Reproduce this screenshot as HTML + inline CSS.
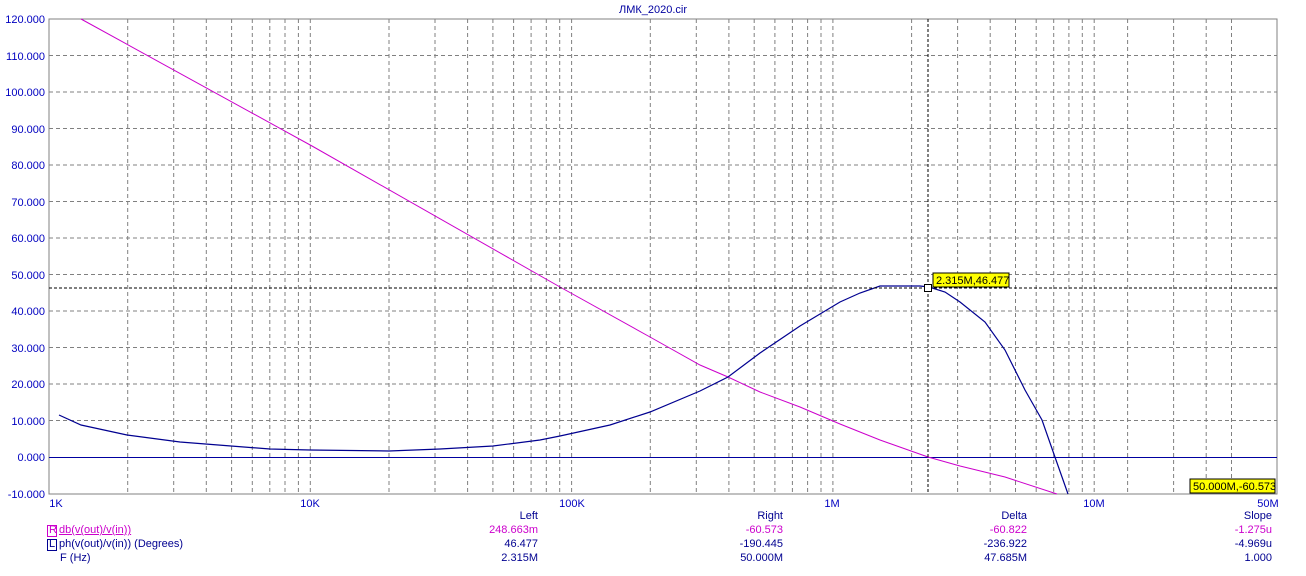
<!DOCTYPE html><html><head><style>
body{margin:0;background:#fff;width:1306px;height:576px;overflow:hidden;font-family:"Liberation Sans",sans-serif;}
.t{position:absolute;font-size:11px;white-space:nowrap}
.r{text-align:right}
</style></head><body>
<svg width="1306" height="576" style="position:absolute;left:0;top:0" font-family="Liberation Sans" font-size="11">
<text x="653" y="13" text-anchor="middle" fill="#0000a0">ЛМК_2020.cir</text>
<g stroke="#808080" stroke-dasharray="4,3" stroke-width="1">
<g id="dec">
<line x1="127.7" y1="19" x2="127.7" y2="494"/><line x1="173.7" y1="19" x2="173.7" y2="494"/><line x1="206.3" y1="19" x2="206.3" y2="494"/><line x1="231.6" y1="19" x2="231.6" y2="494"/><line x1="252.3" y1="19" x2="252.3" y2="494"/><line x1="269.8" y1="19" x2="269.8" y2="494"/><line x1="285" y1="19" x2="285" y2="494"/><line x1="298.4" y1="19" x2="298.4" y2="494"/><line x1="310.3" y1="19" x2="310.3" y2="494"/>
</g>
<use href="#dec" x="261.3"/><use href="#dec" x="522.6"/><use href="#dec" x="783.9"/>
<line x1="1127.6" y1="19" x2="1127.6" y2="494"/><line x1="1173.6" y1="19" x2="1173.6" y2="494"/><line x1="1206.2" y1="19" x2="1206.2" y2="494"/><line x1="1231.5" y1="19" x2="1231.5" y2="494"/>
<line x1="49" y1="55.5" x2="1277" y2="55.5"/><line x1="49" y1="92" x2="1277" y2="92"/><line x1="49" y1="128.5" x2="1277" y2="128.5"/><line x1="49" y1="165" x2="1277" y2="165"/><line x1="49" y1="201.5" x2="1277" y2="201.5"/><line x1="49" y1="238" x2="1277" y2="238"/><line x1="49" y1="274.5" x2="1277" y2="274.5"/><line x1="49" y1="311" x2="1277" y2="311"/><line x1="49" y1="347.5" x2="1277" y2="347.5"/><line x1="49" y1="384" x2="1277" y2="384"/><line x1="49" y1="420.5" x2="1277" y2="420.5"/>
</g>
<rect x="49" y="19" width="1228" height="475" fill="none" stroke="#808080"/>
<line x1="49" y1="457.5" x2="1277" y2="457.5" stroke="#0000a0"/>
<g fill="#0000c0" text-anchor="end">
<text x="45" y="23">120.000</text><text x="45" y="60">110.000</text><text x="45" y="96">100.000</text><text x="45" y="133">90.000</text><text x="45" y="169">80.000</text><text x="45" y="206">70.000</text><text x="45" y="242">60.000</text><text x="45" y="279">50.000</text><text x="45" y="315">40.000</text><text x="45" y="352">30.000</text><text x="45" y="388">20.000</text><text x="45" y="425">10.000</text><text x="45" y="461">0.000</text><text x="45" y="498">-10.000</text>
</g>
<g fill="#0000c0" text-anchor="middle">
<text x="56" y="507">1K</text><text x="310" y="507">10K</text><text x="572" y="507">100K</text><text x="832" y="507">1M</text><text x="1094" y="507">10M</text><text x="1268" y="507">50M</text>
</g>
<polyline fill="none" stroke="#cc00cc" stroke-width="1" points="81,19 312,146 560,287 650,337 700,365 728,377 760,392 800,407 840,424 880,440 928,457 960,466 1005,477 1057,494"/>
<polyline fill="none" stroke="#000090" stroke-width="1.2" points="59,415 81,425 127,435 180,442 231,446 270,449 310,450 389,451 440,449 493,446 540,440 560,436 610,425 650,412 700,391 728,377 760,353 800,326 840,302 860,293 880,286 920,286 929,287 945,292 960,302 985,322 1005,350 1025,390 1042,420 1056,460 1068,494"/>
<line x1="928" y1="19" x2="928" y2="494" stroke="#000" stroke-dasharray="3,2"/>
<line x1="49" y1="288" x2="1277" y2="288" stroke="#000" stroke-dasharray="3,2"/>
<rect x="924.5" y="284.5" width="7" height="7" fill="#fff" stroke="#000"/>
<rect x="933" y="273" width="76" height="14" fill="#ffff00" stroke="#000"/>
<text x="936" y="284" fill="#000">2.315M,46.477</text>
<rect x="1190" y="479" width="85" height="14" fill="#ffff00" stroke="#000"/>
<text x="1193" y="490" fill="#000">50.000M,-60.573</text>
<rect x="47.5" y="525.5" width="9" height="11" fill="none" stroke="#cc00cc"/>
<rect x="47.5" y="539.5" width="9" height="11" fill="none" stroke="#000090"/>
</svg>
<div class="t" style="left:49px;top:524px;color:#cc00cc">R</div>
<div class="t" style="left:59px;top:524px;color:#cc00cc;text-decoration:underline">db(v(out)/v(in))</div>
<div class="t" style="left:49px;top:538px;color:#000090">L</div>
<div class="t" style="left:59px;top:538px;color:#000090">ph(v(out)/v(in)) (Degrees)</div>
<div class="t" style="left:60px;top:552px;color:#000090">F (Hz)</div>
<div class="t r" style="right:768px;top:510px;color:#000090">Left</div>
<div class="t r" style="right:768px;top:524px;color:#cc00cc">248.663m</div>
<div class="t r" style="right:768px;top:538px;color:#000090">46.477</div>
<div class="t r" style="right:768px;top:552px;color:#000090">2.315M</div>
<div class="t r" style="right:523px;top:510px;color:#000090">Right</div>
<div class="t r" style="right:523px;top:524px;color:#cc00cc">-60.573</div>
<div class="t r" style="right:523px;top:538px;color:#000090">-190.445</div>
<div class="t r" style="right:523px;top:552px;color:#000090">50.000M</div>
<div class="t r" style="right:279px;top:510px;color:#000090">Delta</div>
<div class="t r" style="right:279px;top:524px;color:#cc00cc">-60.822</div>
<div class="t r" style="right:279px;top:538px;color:#000090">-236.922</div>
<div class="t r" style="right:279px;top:552px;color:#000090">47.685M</div>
<div class="t r" style="right:34px;top:510px;color:#000090">Slope</div>
<div class="t r" style="right:34px;top:524px;color:#cc00cc">-1.275u</div>
<div class="t r" style="right:34px;top:538px;color:#000090">-4.969u</div>
<div class="t r" style="right:34px;top:552px;color:#000090">1.000</div>
</body></html>
